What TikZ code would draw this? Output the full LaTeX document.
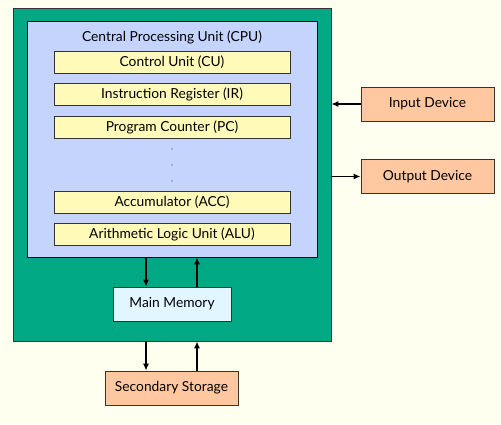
\documentclass[tikz,border=0pt]{standalone}
\usepackage{fontspec}
\setmainfont{Lato}
\usepackage{xcolor}
\usetikzlibrary{arrows.meta,positioning}

\definecolor{paper}{HTML}{FFFFF0}
\definecolor{boardgreen}{HTML}{00A884}
\definecolor{cpublue}{HTML}{C4D4FC}
\definecolor{regyellow}{HTML}{FFFAB8}
\definecolor{devorange}{HTML}{FFC8A0}
\definecolor{memcyan}{HTML}{E2F6FF}

\begin{document}
\begin{tikzpicture}[x=1pt,y=1pt,node distance=10pt,>={Latex[length=7pt,width=6pt]},font=\fontsize{13.8}{16}\selectfont]
  \tikzstyle{box}=[draw=black!80,line width=0.8pt,align=center,inner sep=0pt]
  \tikzstyle{reg}=[box,fill=regyellow,minimum width=236pt,minimum height=22pt]
  \tikzstyle{dev}=[box,fill=devorange,minimum width=133pt,minimum height=34pt]
  \tikzstyle{link}=[->,line width=1.3pt]
  \fill[paper] (0,0) rectangle (501,-424);
  \useasboundingbox (0,0) rectangle (501,-424);
  % computer board and cpu
  \node[box,fill=boardgreen,minimum width=318pt,minimum height=333pt] (comp) at (172,-174.5) {};
  \node[box,draw=black!70!blue,fill=cpublue,minimum width=290pt,minimum height=236pt] (cpu) at (172,-139) {};
  \node (cputitle) at (172,-37) {Central Processing Unit (CPU)};
  \node[reg] (cu) at (172,-62) {Control Unit (CU)};
  \node[reg,below=of cu] (ir) {Instruction Register (IR)};
  \node[reg,below=of ir] (pc) {Program Counter (PC)};
  \node[reg] (acc) at (172,-202) {Accumulator (ACC)};
  \node[reg,below=of acc] (alu) {Arithmetic Logic Unit (ALU)};
  \foreach \n/\y in {d1/149,d2/165,d3/181}
    \node[circle,fill=black!80,inner sep=0pt,minimum size=1.3pt] (\n) at (172,-\y) {};
  % memory and devices
  \node[box,fill=memcyan,minimum width=118pt,minimum height=34pt] (mm) at (172,-304) {Main Memory};
  \node[dev] (ss) at (171.5,-388) {Secondary Storage};
  \node[dev] (in) at (427.5,-104) {Input Device};
  \node[dev] (out) at (427.5,-176.5) {Output Device};
  \draw[link] ([xshift=-26pt]cpu.south) -- ([xshift=-26pt]mm.north);
  \draw[link] ([xshift=25pt]mm.north) -- ([xshift=25pt]cpu.south);
  \draw[link] ([xshift=-26pt]comp.south) -- ([xshift=-26pt]comp.south |- ss.north);
  \draw[link] ([xshift=25pt]comp.south |- ss.north) -- ([xshift=25pt]comp.south);
  \draw[link] (in.west) -- (in.west -| comp.east);
  \draw[link] (out.west -| comp.east) -- (out.west);
\end{tikzpicture}
\end{document}
